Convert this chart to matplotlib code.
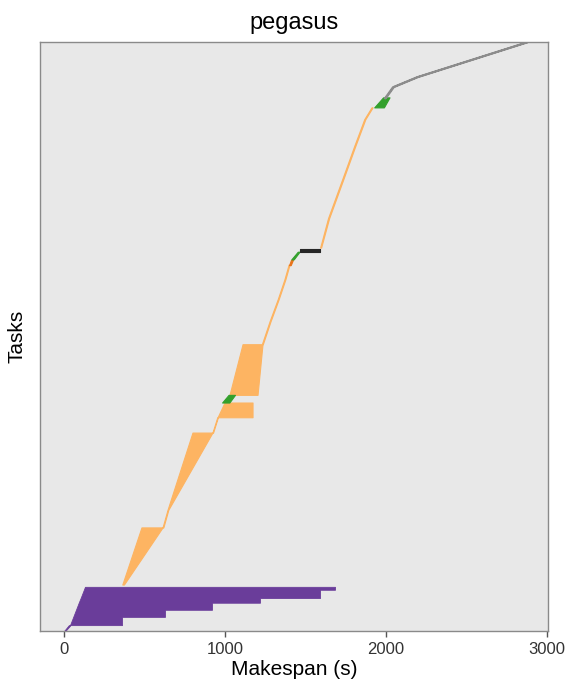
import numpy as np
import matplotlib
matplotlib.use('Agg')
import matplotlib.pyplot as plt

nan = np.nan

# task index (y) with start / end time (s) of the task band, one set per task type
purple_task = [0, 10, 10, 24, 24, 36, 36, 48, 48, 56, 56, 70, 70, 75]
purple_start = [0, 30, 37, 57, 57, 74, 74, 91, 91, 103, 103, 123, 123, 130]
purple_end = [8, 40, 360, 360, 627, 627, 919, 919, 1217, 1217, 1590, 1590, 1683, 1683]

orange_task = [78, 175, 175, 205, 336, 336, 362, 362, 387, nan,
               400, 486, 486, 525, 562, 596, 621, nan,
               650, 700, 766, 822, 868, 888]
orange_start = [365, 484, 615, 646, 801, 925, 955, 957, 1000, nan,
                1031, 1112, 1232, 1280, 1330, 1372, 1398, nan,
                1594, 1643, 1731, 1805, 1868, 1913]
orange_end = [375, 615, 620, 651, 925, 929, 959, 1174, 1174, nan,
              1205, 1236, 1238, 1286, 1336, 1378, 1404, nan,
              1600, 1650, 1738, 1812, 1875, 1920]

darkorange_task = [621, 630]
darkorange_start = [1398, 1410]
darkorange_end = [1408, 1422]

green_task = [387, 400, nan, 630, 643, nan, 888, 905]
green_start = [985, 1025, nan, 1415, 1455, nan, 1930, 1985]
green_end = [1030, 1065, nan, 1430, 1466, nan, 1990, 2025]

black_task = [643, 649]
black_start = [1466, 1466]
black_end = [1590, 1590]

grey_task = [905, 924, 941, 1000]
grey_start = [1990, 2040, 2190, 2870]
grey_end = [1996, 2046, 2196, 2876]

xticks = [0, 1000, 2000, 3000]

plt.rcParams['font.family'] = ['Liberation Sans', 'DejaVu Sans']

fig = plt.figure(figsize=(5.7, 6.87), dpi=100)
ax = fig.add_axes([0.070, 0.0815, 0.891, 0.8575])
ax.set_facecolor('#e8e8e8')

bands = [
    (purple_task, purple_start, purple_end, '#6a3d9a', 0.6),
    (orange_task, orange_start, orange_end, '#fdb462', 0.8),
    (darkorange_task, darkorange_start, darkorange_end, '#e8741a', 0.8),
    (green_task, green_start, green_end, '#33a02c', 0.8),
    (black_task, black_start, black_end, '#262626', 0.8),
    (grey_task, grey_start, grey_end, '#8c8c8c', 1.4),
]
for task, start, end, color, lw in bands:
    ax.fill_betweenx(np.array(task, dtype=float), np.array(start, dtype=float),
                     np.array(end, dtype=float), color=color, edgecolor=color,
                     linewidth=lw)

ax.set_xlim(-150, 3005)
ax.set_ylim(0, 1000)
ax.set_xticks(xticks)
ax.set_xticklabels([str(v) for v in xticks])
ax.set_yticks([])
ax.tick_params(axis='x', length=4, width=1, color='#555555', labelsize=12,
               labelcolor='#333333', pad=4)
for s in ax.spines.values():
    s.set_color('#8a8a8a')
    s.set_linewidth(1.0)

ax.set_title('pegasus', fontsize=17, pad=9)
ax.set_xlabel('Makespan (s)', fontsize=15, labelpad=2)
ax.set_ylabel('Tasks', fontsize=15, labelpad=10)

fig.savefig('out.png', dpi=100)
plt.close(fig)
